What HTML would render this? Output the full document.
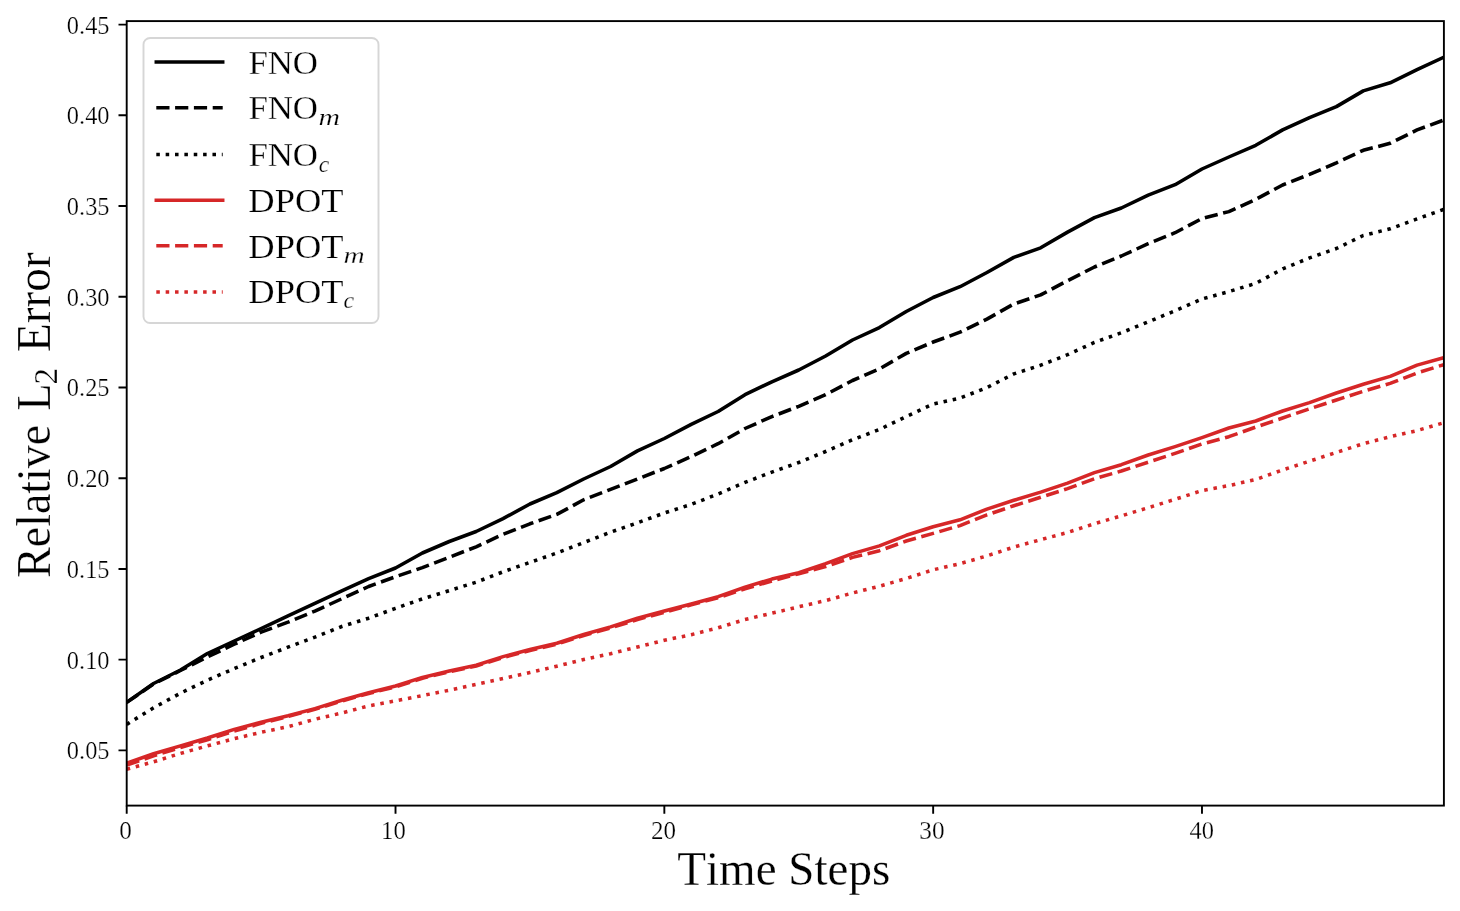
<!DOCTYPE html>
<html><head><meta charset="utf-8"><style>
html,body{margin:0;padding:0;background:#fff;width:1460px;height:911px;overflow:hidden}
svg{display:block;will-change:transform;font-family:"Liberation Serif",serif}
</style></head><body>
<svg width="1460" height="911" viewBox="0 0 1460 911">
<rect width="1460" height="911" fill="#fff"/>
<defs><clipPath id="ax"><rect x="126.7" y="21.1" width="1317.20" height="784.50"/></clipPath></defs>
<g clip-path="url(#ax)" fill="none" stroke-linejoin="round">
<polyline points="126.70,769.20 153.58,761.80 180.46,753.40 207.35,745.90 234.23,738.70 261.11,732.30 287.99,726.70 314.87,719.30 341.76,713.00 368.64,705.90 395.52,700.80 422.40,695.60 449.28,690.20 476.17,684.40 503.05,678.60 529.93,672.50 556.81,666.20 583.69,659.50 610.58,653.70 637.46,647.00 664.34,640.30 691.22,634.70 718.10,627.80 744.99,619.50 771.87,613.20 798.75,606.80 825.63,600.60 852.51,593.00 879.40,586.20 906.28,578.50 933.16,569.80 960.04,563.70 986.92,555.90 1013.81,547.10 1040.69,539.70 1067.57,532.50 1094.45,523.70 1121.33,515.90 1148.22,507.70 1175.10,499.30 1201.98,490.60 1228.86,485.60 1255.74,479.50 1282.63,469.90 1309.51,461.20 1336.39,452.40 1363.27,443.70 1390.15,436.70 1417.04,430.60 1443.92,422.70" stroke="#d62728" stroke-width="3.55" stroke-dasharray="3.53 5.83"/>
<polyline points="126.70,765.10 153.58,755.80 180.46,747.50 207.35,739.80 234.23,731.10 261.11,723.40 287.99,716.50 314.87,709.30 341.76,701.00 368.64,693.50 395.52,686.80 422.40,678.20 449.28,671.80 476.17,666.00 503.05,657.50 529.93,650.50 556.81,644.20 583.69,635.50 610.58,628.00 637.46,619.50 664.34,612.40 691.22,604.80 718.10,597.70 744.99,588.70 771.87,581.00 798.75,573.70 825.63,566.60 852.51,557.40 879.40,550.70 906.28,541.00 933.16,533.40 960.04,525.60 986.92,514.90 1013.81,505.70 1040.69,497.30 1067.57,488.60 1094.45,478.80 1121.33,471.00 1148.22,462.20 1175.10,453.40 1201.98,444.00 1228.86,436.70 1255.74,427.10 1282.63,418.00 1309.51,408.80 1336.39,400.00 1363.27,391.30 1390.15,383.40 1417.04,373.00 1443.92,364.60" stroke="#d62728" stroke-width="3.55" stroke-dasharray="13.2 5.6"/>
<polyline points="126.70,763.20 153.58,753.80 180.46,745.90 207.35,738.00 234.23,729.40 261.11,722.20 287.99,715.80 314.87,708.60 341.76,700.20 368.64,692.70 395.52,686.00 422.40,677.40 449.28,671.00 476.17,665.20 503.05,656.60 529.93,649.50 556.81,643.20 583.69,634.50 610.58,626.90 637.46,618.20 664.34,611.00 691.22,604.00 718.10,596.70 744.99,587.10 771.87,579.10 798.75,572.80 825.63,563.70 852.51,553.60 879.40,545.90 906.28,535.30 933.16,526.70 960.04,519.80 986.92,509.10 1013.81,500.30 1040.69,492.10 1067.57,483.10 1094.45,472.60 1121.33,464.70 1148.22,455.00 1175.10,446.60 1201.98,437.60 1228.86,428.00 1255.74,421.00 1282.63,411.00 1309.51,402.60 1336.39,393.00 1363.27,384.30 1390.15,376.40 1417.04,365.10 1443.92,357.60" stroke="#d62728" stroke-width="3.55" stroke-linecap="square"/>
<polyline points="126.70,724.40 153.58,707.80 180.46,693.20 207.35,680.20 234.23,668.60 261.11,657.50 287.99,647.20 314.87,637.20 341.76,626.50 368.64,618.20 395.52,608.30 422.40,598.90 449.28,590.60 476.17,582.20 503.05,571.80 529.93,562.40 556.81,553.00 583.69,542.60 610.58,532.20 637.46,522.80 664.34,513.00 691.22,504.40 718.10,494.00 744.99,482.40 771.87,472.10 798.75,462.50 825.63,451.50 852.51,439.80 879.40,429.50 906.28,416.60 933.16,404.00 960.04,398.10 986.92,387.60 1013.81,373.90 1040.69,365.20 1067.57,354.70 1094.45,342.40 1121.33,332.80 1148.22,321.80 1175.10,310.80 1201.98,299.00 1228.86,291.60 1255.74,283.40 1282.63,268.90 1309.51,257.90 1336.39,248.50 1363.27,235.50 1390.15,228.80 1417.04,218.90 1443.92,209.30" stroke="#000" stroke-width="3.55" stroke-dasharray="3.53 5.83"/>
<polyline points="126.70,702.40 153.58,684.00 180.46,670.50 207.35,657.00 234.23,644.20 261.11,632.20 287.99,622.20 314.87,611.10 341.76,598.80 368.64,586.50 395.52,576.70 422.40,567.60 449.28,557.20 476.17,546.80 503.05,534.30 529.93,523.80 556.81,514.40 583.69,499.80 610.58,489.40 637.46,479.00 664.34,468.50 691.22,456.60 718.10,443.70 744.99,428.50 771.87,416.60 798.75,406.30 825.63,394.70 852.51,380.50 879.40,368.90 906.28,353.40 933.16,342.00 960.04,332.20 986.92,319.10 1013.81,304.00 1040.69,294.90 1067.57,280.70 1094.45,267.00 1121.33,256.00 1148.22,243.70 1175.10,232.70 1201.98,218.50 1228.86,211.60 1255.74,199.40 1282.63,185.00 1309.51,174.40 1336.39,162.80 1363.27,150.30 1390.15,143.30 1417.04,129.90 1443.92,120.00" stroke="#000" stroke-width="3.55" stroke-dasharray="13.2 5.6"/>
<polyline points="126.70,702.40 153.58,683.50 180.46,670.00 207.35,653.60 234.23,641.00 261.11,628.60 287.99,615.90 314.87,603.40 341.76,590.90 368.64,578.70 395.52,568.00 422.40,553.00 449.28,541.50 476.17,531.50 503.05,518.60 529.93,504.00 556.81,492.60 583.69,479.00 610.58,466.50 637.46,450.90 664.34,438.50 691.22,424.40 718.10,411.50 744.99,394.70 771.87,381.80 798.75,370.00 825.63,356.00 852.51,340.00 879.40,327.60 906.28,311.50 933.16,297.50 960.04,286.70 986.92,272.50 1013.81,257.40 1040.69,247.80 1067.57,232.10 1094.45,217.60 1121.33,208.00 1148.22,195.10 1175.10,184.70 1201.98,169.00 1228.86,157.00 1255.74,145.30 1282.63,129.90 1309.51,117.70 1336.39,106.60 1363.27,90.90 1390.15,82.80 1417.04,69.70 1443.92,57.20" stroke="#000" stroke-width="3.55" stroke-linecap="square"/>
</g>
<rect x="126.7" y="21.1" width="1317.20" height="784.50" fill="none" stroke="#000" stroke-width="1.9" stroke-linejoin="miter"/>
<path d="M126.70,805.60V813.80M395.52,805.60V813.80M664.34,805.60V813.80M933.16,805.60V813.80M1201.98,805.60V813.80M126.70,750.40H118.50M126.70,659.67H118.50M126.70,568.95H118.50M126.70,478.22H118.50M126.70,387.50H118.50M126.70,296.77H118.50M126.70,206.05H118.50M126.70,115.32H118.50M126.70,24.60H118.50" stroke="#000" stroke-width="1.9" fill="none"/>
<g font-family="Liberation Serif" fill="#000" stroke="#fff" stroke-width="0.25" style="font-kerning:none">
<text transform="translate(119.24,838.50) scale(1.0432,1)" font-size="24.2">0</text>
<text transform="translate(381.03,838.50) scale(1.0212,1)" font-size="24.2">10</text>
<text transform="translate(651.00,838.50) scale(1.0353,1)" font-size="24.2">20</text>
<text transform="translate(919.29,838.50) scale(1.0443,1)" font-size="24.2">30</text>
<text transform="translate(1189.62,838.50) scale(1.0085,1)" font-size="24.2">40</text>
<text transform="translate(66.87,759.35) scale(1.0078,1)" font-size="24.2">0.05</text>
<text transform="translate(66.85,668.62) scale(1.0078,1)" font-size="24.2">0.10</text>
<text transform="translate(66.87,577.90) scale(1.0078,1)" font-size="24.2">0.15</text>
<text transform="translate(66.85,487.17) scale(1.0078,1)" font-size="24.2">0.20</text>
<text transform="translate(66.87,396.45) scale(1.0078,1)" font-size="24.2">0.25</text>
<text transform="translate(66.85,305.72) scale(1.0078,1)" font-size="24.2">0.30</text>
<text transform="translate(66.87,215.00) scale(1.0078,1)" font-size="24.2">0.35</text>
<text transform="translate(66.85,124.27) scale(1.0078,1)" font-size="24.2">0.40</text>
<text transform="translate(66.87,33.55) scale(1.0078,1)" font-size="24.2">0.45</text>
<text transform="translate(677.25,884.80) scale(0.9507,1)" font-size="49.5">Time Steps</text>
<g transform="translate(50.0,0) rotate(-90)">
<text transform="translate(-577.72,0.00) scale(0.9353,1)" font-size="49">Relative</text>
<text transform="translate(-410.58,0.00) scale(0.9071,1)" font-size="49">L</text>
<text transform="translate(-384.55,7.00) scale(0.9829,1)" font-size="33.5">2</text>
<text transform="translate(-352.06,0.00) scale(0.9661,1)" font-size="49">Error</text>
</g>
<rect x="143.5" y="38" width="235" height="285" rx="6.6" ry="6.6" fill="#fff" fill-opacity="0.8" stroke="#d6d6d6" stroke-width="1.9"/>
<path d="M156.3,61.9H222.7" stroke="#000" stroke-width="3.55" stroke-linecap="square" fill="none"/>
<text transform="translate(248.40,74.20) scale(1.0359,1)" font-size="33.6">FNO</text>
<path d="M156.3,107.7H222.7" stroke="#000" stroke-width="3.55" stroke-dasharray="13.2 5.6" fill="none"/>
<text transform="translate(248.40,119.30) scale(1.0359,1)" font-size="33.6">FNO</text>
<text transform="translate(318.42,125.00) scale(1.2422,1)" font-size="24.0" font-style="italic">m</text>
<path d="M156.3,154.4H222.7" stroke="#000" stroke-width="3.55" stroke-dasharray="3.53 5.83" fill="none"/>
<text transform="translate(248.40,166.30) scale(1.0359,1)" font-size="33.6">FNO</text>
<text transform="translate(318.77,171.60) scale(0.9838,1)" font-size="24.0" font-style="italic">c</text>
<path d="M156.3,200.3H222.7" stroke="#d62728" stroke-width="3.55" stroke-linecap="square" fill="none"/>
<text transform="translate(248.35,212.30) scale(1.0857,1)" font-size="33.6">DPOT</text>
<path d="M156.3,245.7H222.7" stroke="#d62728" stroke-width="3.55" stroke-dasharray="13.2 5.6" fill="none"/>
<text transform="translate(248.35,258.10) scale(1.0857,1)" font-size="33.6">DPOT</text>
<text transform="translate(343.54,263.20) scale(1.2227,1)" font-size="24.0" font-style="italic">m</text>
<path d="M156.3,292.0H222.7" stroke="#d62728" stroke-width="3.55" stroke-dasharray="3.53 5.83" fill="none"/>
<text transform="translate(248.35,303.40) scale(1.0857,1)" font-size="33.6">DPOT</text>
<text transform="translate(343.47,308.30) scale(0.9942,1)" font-size="24.0" font-style="italic">c</text>
</g>
</svg>
</body></html>
